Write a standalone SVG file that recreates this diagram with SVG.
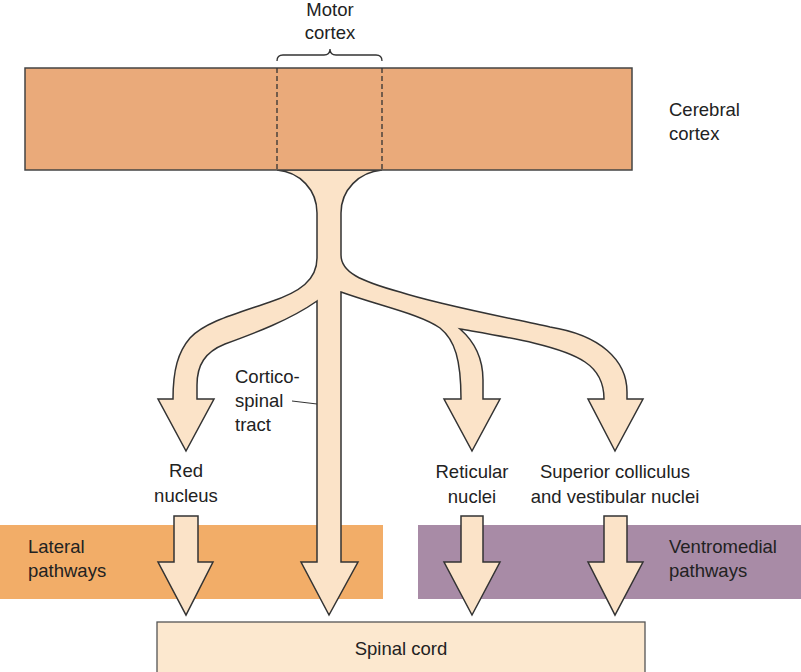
<svg xmlns="http://www.w3.org/2000/svg" width="801" height="672" viewBox="0 0 801 672">
<style>
text{font-family:"Liberation Sans",Arial,sans-serif;font-size:18.5px;fill:#222}
.tract{fill:#FBE3C8;stroke:#333;stroke-width:1.5;stroke-linejoin:miter}
.dash{stroke:#333;stroke-width:1.3;stroke-dasharray:5 3;fill:none}
.c{text-anchor:middle}
</style>
<rect width="801" height="672" fill="#fff"/>
<g id="lateral-pathways">
<rect x="0" y="525" width="383" height="74" fill="#F2AD68"/>
<text x="28" y="553">Lateral</text>
<text x="28" y="577">pathways</text>
</g>
<g id="ventromedial-pathways">
<rect x="418" y="525" width="383" height="74" fill="#A88BA6"/>
<text x="669" y="553">Ventromedial</text>
<text x="669" y="577">pathways</text>
</g>
<g id="spinal-cord">
<rect x="157" y="622" width="488" height="60" fill="#FCE8CF" stroke="#555" stroke-width="1.3"/>
<text class="c" x="401" y="655">Spinal cord</text>
</g>
<g id="connectors">
<path id="tract" class="tract" d="M277,170 C300,172 317,190 317,213 L317,258 C317,280 300,292 270,302 C235,314 205,322 190,338 C178,352 173,370 173,399 L158,399 L186,451 L214,399 L197,399 L197,385 C197,365 205,352 225,344 C255,333 290,320 317,301 L317,562 L301,562 L329,615 L358,562 L341,562 L341,292 C380,306 420,314 440,328 C455,340 461,360 461,399 L444,399 L472,451 L500,399 L483,399 L483,380 C483,360 475,342 460,329 C500,336 560,345 585,362 C600,372 604,385 604,399 L588,399 L615,451 L643,399 L627,399 L627,392 C627,360 600,335 550,327 C510,318 440,305 400,292 C360,281 341,272 341,255 L341,213 C341,190 359,172 382,170 Z"/>
<path id="red-to-cord" class="tract" d="M174,516 L198,516 L198,562 L213,562 L186,615 L158,562 L174,562 Z"/>
<path id="reticular-to-cord" class="tract" d="M461,516 L483,516 L483,562 L500,562 L472,615 L444,562 L461,562 Z"/>
<path id="superior-to-cord" class="tract" d="M604,516 L627,516 L627,562 L643,562 L615,615 L588,562 L604,562 Z"/>
<line x1="292" y1="401" x2="317" y2="404" stroke="#333" stroke-width="1"/>
</g>
<g id="cerebral-cortex">
<rect x="25" y="68" width="607" height="102" fill="#EAAA7A" stroke="#444" stroke-width="1.5"/>
<text x="669" y="116">Cerebral</text>
<text x="669" y="140">cortex</text>
</g>
<g id="motor-cortex">
<line class="dash" x1="277" y1="68" x2="277" y2="170"/>
<line class="dash" x1="382" y1="68" x2="382" y2="170"/>
<path d="M277,61 Q277,55 283,55 L324,55 Q330,55 330,49 Q330,55 336,55 L376,55 Q382,55 382,61" fill="none" stroke="#333" stroke-width="1.3"/>
<text class="c" x="330" y="16">Motor</text>
<text class="c" x="330" y="39">cortex</text>
</g>
<g id="red-nucleus">
<text class="c" x="186" y="477">Red</text>
<text class="c" x="186" y="502">nucleus</text>
</g>
<g id="reticular-nuclei">
<text class="c" x="472" y="478">Reticular</text>
<text class="c" x="472" y="503">nuclei</text>
</g>
<g id="superior-colliculus">
<text class="c" x="615" y="478">Superior colliculus</text>
<text class="c" x="615" y="503">and vestibular nuclei</text>
</g>
<g id="corticospinal-label">
<text x="235" y="383">Cortico-</text>
<text x="235" y="407">spinal</text>
<text x="235" y="431">tract</text>
</g>
</svg>
